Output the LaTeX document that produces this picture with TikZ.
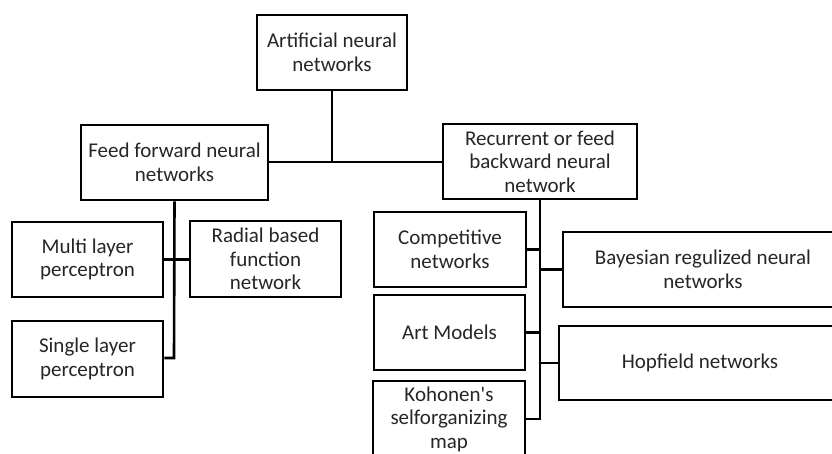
\documentclass[tikz,border=0pt]{standalone}
\usepackage{fontspec}
\setmainfont{Carlito}
\begin{document}
\begin{tikzpicture}[x=1pt,y=-1pt,
  box/.style={draw=black,line width=2.6pt,fill=white,inner sep=0pt,align=center,
    font=\fontsize{21}{23.5}\selectfont,text=black!85},
  link/.style={draw=black,line width=2.6pt}]
\clip (0,0) rectangle (832,453);
\fill[white] (0,0) rectangle (832,453);
% nodes
\node[box,minimum width=150pt,minimum height=75pt] (top) at (332,52.5) {Artificial neural\\networks};
\node[box,minimum width=187pt,minimum height=75pt] (ff) at (174.5,162.5) {Feed forward neural\\networks};
\node[box,minimum width=194pt,minimum height=75pt] (rec) at (540,161.5) {Recurrent or feed\\backward neural\\network};
\node[box,minimum width=151pt,minimum height=75pt] (multi) at (87.5,259.5) {Multi layer\\perceptron};
\node[box,minimum width=151pt,minimum height=76pt] (radial) at (265.5,259) {Radial based\\function\\network};
\node[box,minimum width=151pt,minimum height=76pt] (single) at (87.5,359) {Single layer\\perceptron};
\node[box,minimum width=152pt,minimum height=75pt] (comp) at (450,249.5) {Competitive\\networks};
\node[box,minimum width=151pt,minimum height=75pt] (art) at (449.5,332.5) {Art Models};
\node[box,minimum width=152pt,minimum height=76pt] (koh) at (449,419) {Kohonen\textquotesingle s\\selforganizing\\map};
\node[box,minimum width=280pt,minimum height=75pt] (bay) at (703,269.5) {Bayesian regulized neural\\networks};
\node[box,minimum width=282pt,minimum height=74pt] (hop) at (700,363) {Hopfield networks};
% connectors
\coordinate (j0) at (332,162);
\coordinate (ffb) at (174,358);
\coordinate (recb) at (540,419);
\draw[link] (top.south) -- (j0);
\draw[link] (ff.east |- j0) -- (j0);
\draw[link,line width=2pt] (j0) -- (rec.west |- j0);
\draw[link] (ff.south) -- (ffb) -- (single.east |- ffb);
\draw[link] (multi.east) -- (radial.west |- multi.east);
\draw[link] (rec.south) -- (recb) -- (koh.east |- recb);
\draw[link] (comp.east) -- (rec.south |- comp.east);
\draw[link] (art.east) -- (rec.south |- art.east);
\draw[link] (bay.west) -- (rec.south |- bay.west);
\draw[link] (hop.west) -- (rec.south |- hop.west);
\end{tikzpicture}
\end{document}
